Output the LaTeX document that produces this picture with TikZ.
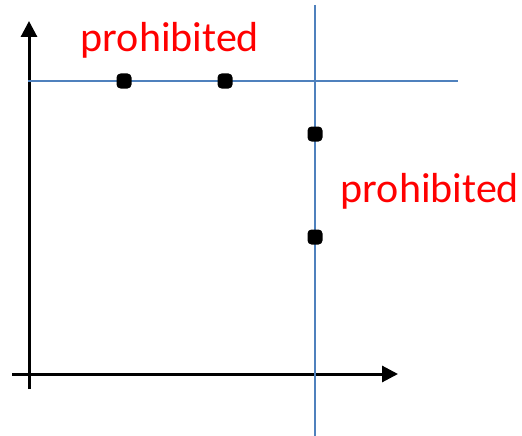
\documentclass[tikz,border=0pt]{standalone}
\usepackage{fontspec}
\setmainfont{Carlito}
\usetikzlibrary{arrows.meta}
\definecolor{guideblue}{RGB}{79,129,189}

\begin{document}
\begin{tikzpicture}[
  x=1pt, y=-1pt,
  axis/.style={line width=3pt, black, -{Triangle[length=16pt, width=16pt]}},
  guide/.style={line width=1.8pt, guideblue},
  dot/.style={rectangle, rounded corners=4pt, fill=black, inner sep=0pt,
              minimum size=15pt},
  label/.style={text=red, font=\fontsize{42}{48}\selectfont, inner sep=0pt,
                anchor=base}
]
\useasboundingbox (0,0) rectangle (522,436);

% axes
\coordinate (yfoot) at (29,389);
\coordinate (ytip)  at (29,21);
\coordinate (xfoot) at (12,374);
\coordinate (xtip)  at (398,374);
\draw[axis] (yfoot) -- (ytip);
\draw[axis] (xfoot) -- (xtip);

% boundary lines
\coordinate (hleft)  at (28,81);
\coordinate (hright) at (458,81);
\coordinate (vtop)   at (315,5);
\coordinate (vbot)   at (315,436);
\draw[guide] (hleft) -- (hright);
\draw[guide] (vtop) -- (vbot);

% points on the boundaries
\node[dot] (p1) at (124,81)  {};
\node[dot] (p2) at (225,81)  {};
\node[dot] (p3) at (315,134) {};
\node[dot] (p4) at (315,237) {};

% labels
\node[label] (proTop)   at (170,52)  {prohibited};
\node[label] (proRight) at (430,202) {prohibited};

\end{tikzpicture}
\end{document}
